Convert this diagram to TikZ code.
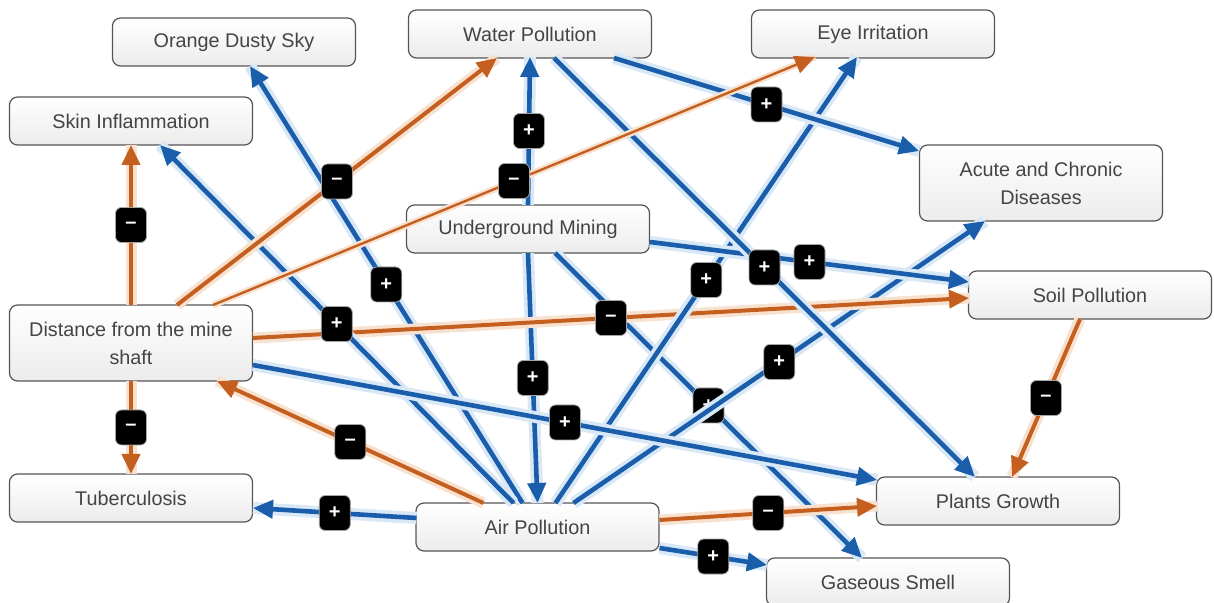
\documentclass[tikz,border=0pt]{standalone}
\usepackage{fontspec}
\setsansfont{Liberation Sans}
\usetikzlibrary{arrows.meta,calc}
\definecolor{linkblue}{HTML}{1A5DAB}
\definecolor{linkorange}{HTML}{C45F1F}
\definecolor{blueglow}{HTML}{D9E8F6}
\definecolor{orangeglow}{HTML}{F8E2CF}
\definecolor{labtext}{HTML}{444444}
\definecolor{boxline}{HTML}{555555}
\tikzset{
  cbox/.style={draw=boxline,line width=0.6pt,rounded corners=4pt,top color=white,bottom color=gray!15,
    minimum width=121.5pt,minimum height=24pt,inner sep=2pt,align=center,text=labtext,
    font=\sffamily\fontsize{9.9}{14}\selectfont},
  sgn/.style={fill=black,draw=gray!70,line width=0.4pt,rounded corners=3pt,minimum width=15.5pt,
    minimum height=17.5pt,inner sep=0pt,text=white,font=\sffamily\bfseries\fontsize{10}{10}\selectfont},
  lnk/.style={-{Triangle[length=10pt,width=9pt]}},
  plink/.style={lnk,draw=linkblue,line width=2.3pt,preaction={draw=blueglow,line width=6pt,-}},
  nlink/.style={lnk,draw=linkorange,line width=2pt,preaction={draw=orangeglow,line width=5.5pt,-}},
  nthin/.style={lnk,draw=linkorange,line width=1.2pt,preaction={draw=orangeglow,line width=3.5pt,-}},
}
\begin{document}
\begin{tikzpicture}[x=0.5pt,y=-0.5pt]
\useasboundingbox (0,0) rectangle (1214,603);
% factors
\node[cbox] (os) at (234,42) {Orange Dusty Sky};
\node[cbox] (wp) at (530,34) {Water Pollution};
\node[cbox] (ei) at (873,34) {Eye Irritation};
\node[cbox] (si) at (131,121) {Skin Inflammation};
\node[cbox,minimum height=38pt] (ac) at (1041,183) {Acute and Chronic\\Diseases};
\node[cbox] (um) at (528,229) {Underground Mining};
\node[cbox] (sp) at (1090,295) {Soil Pollution};
\node[cbox,minimum height=38pt] (ds) at (131,343) {Distance from the mine\\shaft};
\node[cbox] (tb) at (131,498) {Tuberculosis};
\node[cbox] (pg) at (998,501) {Plants Growth};
\node[cbox] (ap) at (537.5,527) {Air Pollution};
\node[cbox] (gs) at (888,582) {Gaseous Smell};
% links: from/offset/to/offset/style/sign
\foreach \a/\ax/\ay/\b/\bx/\by/\s/\t in {
  um/0/-24/wp/0/23/plink/+, um/0/24/ap/0/-24/plink/+, um/27/24/gs/-26/-24/plink/+,
  ap/36/-24/ac/-56/38/plink/+, ap/-15/-24/os/16/24/plink/+, ds/122/-5/sp/-121/3/nlink/–,
  ap/-24/-24/si/29/24/plink/+, ap/-121/-9/tb/122/10/plink/+, ap/18/-24/ei/-16/23/plink/+,
  wp/84/24/ac/-122/-32/plink/+, um/122/13/sp/-121/-13/plink/+, wp/24/24/pg/-23/-24/plink/+,
  ap/122/21/gs/-121/-17/plink/+, ds/122/22/pg/-121/-21/plink/+,
  ds/0/-38/si/0/24/nlink/–, ds/0/38/tb/0/-24/nlink/–, ds/46/-38/wp/-33/24/nlink/–,
  ds/82/-38/ei/-58/23/nthin/–, ap/-54/-24/ds/86/38/nlink/–,
  ap/122/-7/pg/-121/5/nlink/–, sp/-10/24/pg/14/-24/nlink/–}
  \draw[\s] ($(\a)+(\ax,\ay)$) -- node[sgn] {\t} ($(\b)+(\bx,\by)$);
\end{tikzpicture}
\end{document}
